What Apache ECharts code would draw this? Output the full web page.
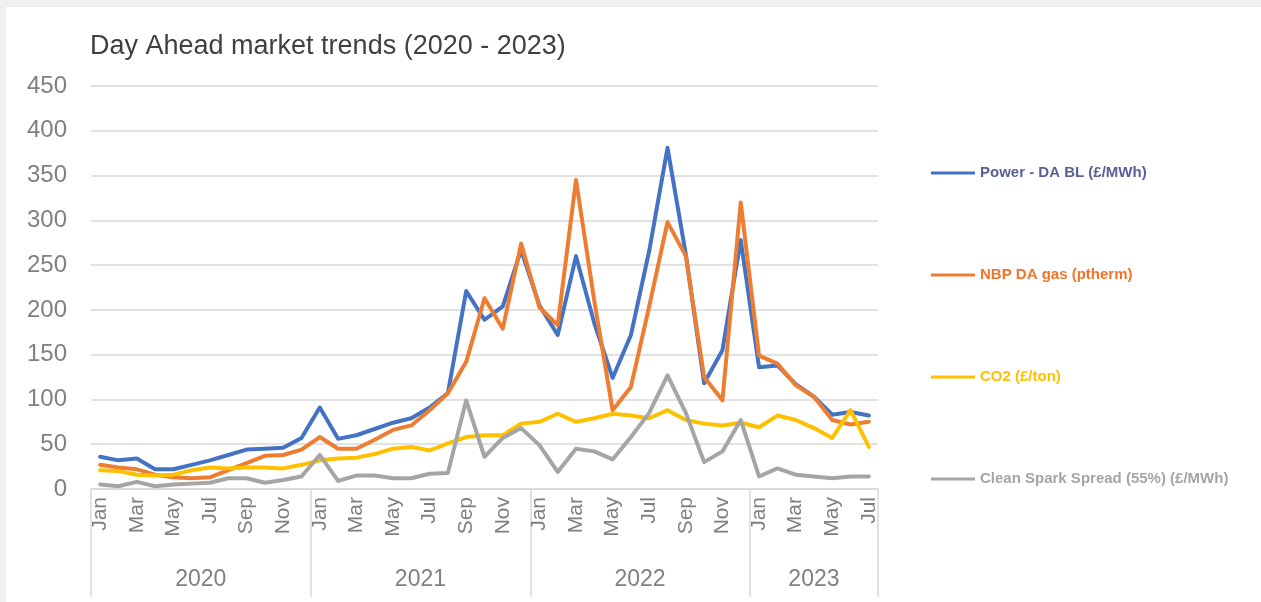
<!DOCTYPE html>
<html>
<head>
<meta charset="utf-8">
<script src="https://cdn.jsdelivr.net/npm/echarts@6/dist/echarts.min.js"></script>
<style>
  html, body { margin: 0; padding: 0; background: #f0f0f0; width: 1261px; height: 602px; overflow: hidden; }
  #c { position: absolute; left: 6px; top: 7px; width: 1255px; height: 595px; background: #ffffff; }
</style>
</head>
<body>
<div id="c"></div>
<script>
// ---- data ----
const months = ['Jan','Feb','Mar','Apr','May','Jun','Jul','Aug','Sep','Oct','Nov','Dec'];
const years = ['2020','2021','2022','2023'];
const monthsInYear = [12, 12, 12, 7];

const seriesNames = [
  'Power - DA BL (£/MWh)',
  'NBP DA gas (ptherm)',
  'CO2 (£/ton)',
  'Clean Spark Spread (55%) (£/MWh)'
];

const power = [36,32,34,22,22,27,32,38,44,45,46,57,
               91,56,60,67,74,79,91,107,221,189,204,267,
               205,172,260,185,124,172,266,381,262,118,155,278,
               136,138,117,103,83,86,82];
const gas = [27,24,22,16,13,12,13,21,29,37,38,44,
             58,45,45,55,66,71,88,107,142,213,179,274,
             203,183,345,210,88,114,204,298,260,125,99,320,
             149,140,116,103,77,72,75];
const co2 = [21,20,16,15,16,21,24,23,24,24,23,27,
             32,34,35,39,45,47,43,51,58,60,60,73,
             75,84,75,79,84,82,79,88,77,73,71,74,
             69,82,77,68,57,88,47];
const spark = [5,3,8,3,5,6,7,12,12,7,10,14,
               38,9,15,15,12,12,17,18,99,36,57,68,
               49,19,45,42,33,58,85,127,85,30,42,77,
               14,23,16,14,12,14,14];

const yTicks = [0,50,100,150,200,250,300,350,400,450];

// ---- derived ----
const categories = [];
const yearStart = [];
const yearMid = [];
let acc = 0;
monthsInYear.forEach((n, yi) => {
  yearStart.push(acc);
  yearMid.push(acc + n / 2);
  for (let m = 0; m < n; m++) categories.push(months[m]);
  acc += n;
});
const total = acc;
const yearBounds = yearStart.concat([total]);

const colors = ['#4472c4', '#ed7d31', '#ffc000', '#a5a5a5'];
const legendTextColors = ['#5b5f97', '#f4732a', '#ffc000', '#a5a5a5'];
const FONT = '"Liberation Sans", Arial, sans-serif';

const chart = echarts.init(document.getElementById('c'), null, { renderer: 'canvas' });

const option = {
  backgroundColor: '#ffffff',
  animation: false,
  title: {
    text: 'Day Ahead market trends (2020 - 2023)',
    left: 79,
    top: 21,
    textStyle: { fontFamily: FONT, fontSize: 27, fontWeight: 'normal', color: '#404040' }
  },
  legend: {
    orient: 'vertical',
    left: 920,
    top: 153,
    itemWidth: 44,
    itemHeight: 16,
    itemGap: 86,
    icon: 'path://M0,0 L44,0 L44,3 L0,3 Z',
    data: seriesNames.map((n, i) => ({
      name: n,
      textStyle: { color: legendTextColors[i] }
    })),
    textStyle: { fontFamily: FONT, fontSize: 15, fontWeight: 'bold', lineHeight: 16 }
  },
  grid: { left: 85, right: 383, top: 79, bottom: 113, containLabel: false },
  xAxis: [
    {
      type: 'category',
      data: categories,
      position: 'bottom',
      boundaryGap: true,
      axisLine: { show: true, lineStyle: { color: '#d9d9d9', width: 1.5 } },
      axisTick: { show: false },
      axisLabel: {
        interval: 1,
        rotate: 90,
        margin: 8,
        fontFamily: FONT,
        fontSize: 21,
        color: '#808080'
      },
      splitLine: { show: false }
    },
    {
      type: 'value',
      position: 'bottom',
      min: 0,
      max: total,
      axisLine: { show: false },
      splitLine: { show: false },
      axisTick: {
        show: true,
        customValues: yearBounds,
        length: 108,
        lineStyle: { color: '#d9d9d9', width: 1.5 }
      },
      axisLabel: {
        customValues: yearMid,
        margin: 79,
        fontFamily: FONT,
        fontSize: 23,
        color: '#808080',
        formatter: function (v) {
          const idx = yearMid.indexOf(v);
          return idx >= 0 ? years[idx] : '';
        }
      }
    }
  ],
  yAxis: {
    type: 'value',
    min: yTicks[0],
    max: yTicks[yTicks.length - 1],
    interval: yTicks[1] - yTicks[0],
    axisLine: { show: false },
    axisTick: { show: false },
    axisLabel: { margin: 24, fontFamily: FONT, fontSize: 24, color: '#808080' },
    splitLine: { show: true, lineStyle: { color: '#d9d9d9', width: 1.5 } }
  },
  series: [power, gas, co2, spark].map((d, i) => ({
    name: seriesNames[i],
    type: 'line',
    xAxisIndex: 0,
    data: d,
    symbol: 'none',
    smooth: false,
    color: colors[i],
    lineStyle: { color: colors[i], width: 4, join: 'round', cap: 'round' }
  }))
};

chart.setOption(option);
</script>
</body>
</html>
